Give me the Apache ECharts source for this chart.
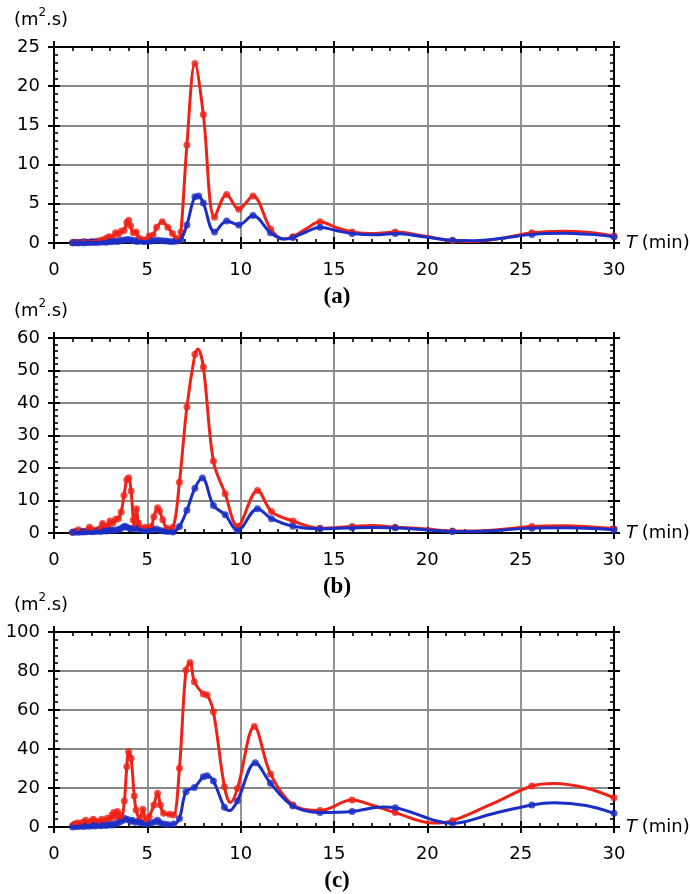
<!DOCTYPE html>
<html><head><meta charset="utf-8">
<script src="https://cdn.jsdelivr.net/npm/echarts@6/dist/echarts.min.js"></script>
<style>html,body{margin:0;padding:0;background:#fff}#c{width:691px;height:894px}</style>
</head><body><div id="c"></div>
<script>
// ---------- data ----------
const xMin = 0, xMax = 30, xStep = 5;
const panelLabels = ['(a)', '(b)', '(c)'];
const yUnit = ['(m', '2', '.s)'];
const xName = ['T', ' (min)'];
const yMaxes = [25, 60, 100];
const ySteps = [5, 10, 20];

// Panel (a)
const redAMarks = [[1.0,0.1],[1.2,0.1],[1.4,0.1],[1.6,0.2],[1.8,0.1],[2.0,0.2],[2.2,0.2],[2.4,0.3],[2.6,0.4],[2.8,0.6],[2.95,0.8],[3.1,0.7],[3.3,1.3],[3.45,1.1],[3.6,1.5],[3.75,1.6],[3.9,2.6],[4.0,2.9],[4.1,2.2],[4.25,1.3],[4.4,1.4],[4.55,0.6],[4.75,0.4],[4.95,0.4],[5.1,0.9],[5.3,1.0],[5.5,2.0],[5.8,2.7],[6.1,2.0],[6.35,1.2],[6.55,0.6],[6.65,0.3],[6.8,1.4],[7.12,12.5],[7.55,22.9],[8.0,16.4],[8.6,3.3],[9.25,6.2],[9.9,4.3],[10.66,6.0],[11.6,1.8],[12.8,0.8],[14.25,2.7],[15.97,1.4],[18.28,1.4],[21.35,0.3],[25.6,1.3],[30,0.9]];
const redAExtra = [[12.3,0.5],[13.5,1.8],[15.1,2.0],[17.2,1.2],[19.8,0.9],[22.5,0.2],[24.0,0.6],[27.2,1.5],[28.7,1.35]];
const blueAMarks = [[1.0,0.0],[1.15,0.05],[1.3,0.0],[1.45,0.05],[1.6,0.0],[1.75,0.1],[1.9,0.05],[2.05,0.1],[2.2,0.05],[2.35,0.1],[2.5,0.1],[2.65,0.15],[2.8,0.1],[2.95,0.2],[3.1,0.15],[3.25,0.25],[3.4,0.2],[3.55,0.3],[3.7,0.35],[3.85,0.4],[4.0,0.45],[4.15,0.35],[4.3,0.3],[4.45,0.2],[4.6,0.25],[4.8,0.2],[5.0,0.2],[5.2,0.25],[5.4,0.3],[5.6,0.35],[5.8,0.3],[6.0,0.25],[6.2,0.2],[6.4,0.2],[6.6,0.25],[6.8,0.4],[7.12,2.3],[7.55,5.9],[7.75,6.0],[8.0,5.1],[8.6,1.4],[9.25,2.8],[9.9,2.3],[10.66,3.5],[11.6,1.3],[12.8,0.7],[14.25,2.0],[15.97,1.2],[18.28,1.2],[21.35,0.35],[25.6,1.1],[30,0.8]];
const blueAExtra = [[12.3,0.5],[13.5,1.4],[15.1,1.6],[17.2,1.05],[19.8,0.8],[22.5,0.3],[24.0,0.6],[27.2,1.25],[28.7,1.1]];

// Panel (b)
const redBMarks = [[1.0,0.2],[1.15,0.5],[1.3,1.0],[1.45,0.4],[1.6,0.5],[1.75,0.7],[1.9,1.8],[2.05,1.0],[2.2,0.7],[2.35,1.0],[2.5,1.5],[2.6,2.9],[2.75,2.0],[2.9,2.2],[3.0,3.7],[3.15,3.0],[3.3,4.2],[3.45,4.4],[3.6,6.5],[3.75,11.6],[3.9,16.4],[4.0,17.0],[4.13,12.9],[4.25,4.0],[4.32,1.8],[4.42,7.5],[4.53,3.0],[4.7,1.5],[4.9,1.8],[5.2,2.0],[5.35,5.0],[5.55,7.8],[5.65,6.8],[5.83,4.1],[6.06,1.5],[6.37,1.8],[6.72,15.6],[7.12,38.8],[7.55,55.0],[8.0,51.1],[8.54,22.1],[9.17,12.1],[9.83,2.1],[10.9,13.1],[11.65,6.6],[12.8,3.7],[14.25,1.5],[15.97,2.0],[18.28,1.8],[21.35,0.6],[25.6,2.0],[30,1.3]];
const redBExtra = [[7.7,56.6],[17.0,2.3],[20.0,1.2],[22.5,0.6],[27.3,2.2]];
const blueBMarks = [[1.0,0.2],[1.15,0.3],[1.3,0.2],[1.45,0.4],[1.6,0.3],[1.75,0.4],[1.9,0.5],[2.05,0.4],[2.2,0.5],[2.35,0.6],[2.5,0.5],[2.65,0.7],[2.8,0.6],[2.95,0.8],[3.1,0.9],[3.25,0.8],[3.4,1.0],[3.55,1.3],[3.7,1.8],[3.8,2.1],[3.95,1.7],[4.1,1.4],[4.25,1.2],[4.4,1.6],[4.55,1.3],[4.7,0.9],[4.9,0.8],[5.1,1.0],[5.3,1.0],[5.5,1.2],[5.7,0.8],[5.9,0.6],[6.1,0.5],[6.37,0.3],[6.72,2.0],[7.12,7.0],[7.55,13.8],[7.95,16.9],[8.54,8.5],[9.17,5.6],[9.83,0.8],[10.9,7.5],[11.65,4.4],[12.8,2.1],[14.25,1.3],[15.97,1.6],[18.28,1.6],[21.35,0.5],[25.6,1.5],[30,1.0]];
const blueBExtra = [[17.0,1.7],[20.0,0.9],[22.5,0.5],[27.3,1.6]];

// Panel (c)
const redCMarks = [[1.0,0.8],[1.1,1.5],[1.25,2.0],[1.4,1.5],[1.55,2.5],[1.7,3.5],[1.85,2.0],[2.0,3.0],[2.1,4.0],[2.25,3.0],[2.4,2.5],[2.55,4.0],[2.7,3.0],[2.85,4.5],[3.0,4.0],[3.1,6.0],[3.2,7.5],[3.3,5.0],[3.4,8.0],[3.5,6.0],[3.6,4.0],[3.77,13.3],[3.9,30.9],[4.0,38.6],[4.13,35.2],[4.3,15.9],[4.4,8.7],[4.6,4.4],[4.76,9.1],[4.93,2.7],[5.1,5.3],[5.35,11.3],[5.55,17.3],[5.7,11.3],[5.87,7.0],[6.2,6.5],[6.41,6.2],[6.72,30.1],[7.07,80.5],[7.29,84.3],[7.52,74.5],[8.0,68.2],[8.2,67.7],[8.54,59.1],[9.13,20.7],[9.83,19.8],[10.73,51.5],[11.6,27.2],[12.8,11.3],[14.25,8.4],[15.97,13.8],[18.28,7.4],[21.35,3.2],[25.6,21.0],[30,15.0]];
const redCExtra = [[9.45,12.6],[17.0,11.3],[20.3,2.0],[23.5,12.0],[26.8,22.3],[28.5,20.0]];
const blueCMarks = [[1.0,0.0],[1.15,0.3],[1.3,0.2],[1.45,0.5],[1.6,0.3],[1.75,0.6],[1.9,0.4],[2.05,0.8],[2.2,0.5],[2.35,0.9],[2.5,0.6],[2.65,1.0],[2.8,0.8],[2.95,1.2],[3.1,1.0],[3.25,1.5],[3.4,1.8],[3.55,2.8],[3.7,3.5],[3.8,4.4],[3.95,3.8],[4.1,3.0],[4.2,3.5],[4.35,2.5],[4.5,2.8],[4.65,2.0],[4.8,1.8],[5.0,1.5],[5.2,2.0],[5.4,2.6],[5.55,3.5],[5.7,2.0],[5.9,1.5],[6.1,1.3],[6.41,1.5],[6.72,4.4],[7.07,18.1],[7.52,20.3],[8.0,25.8],[8.2,26.3],[8.54,23.6],[9.13,10.1],[9.83,13.5],[10.78,33.0],[11.6,22.4],[12.8,10.8],[14.25,7.5],[15.97,8.0],[18.28,9.9],[21.35,1.9],[25.6,11.3],[30,7.0]];
const blueCExtra = [[9.4,8.4],[17.6,10.3],[23.5,6.8],[26.8,12.4],[28.5,11.0]];

// ---------- chart ----------
const RED = '#ee2216', BLUE = '#1b2ec6';
const FONT = 'DejaVu Sans';
const layout = [
  {top: 47, height: 196},
  {top: 338, height: 195},
  {top: 632, height: 195}
];
const L = 54, W = 560;
const panelData = [
  [redAMarks, redAExtra, blueAMarks, blueAExtra],
  [redBMarks, redBExtra, blueBMarks, blueBExtra],
  [redCMarks, redCExtra, blueCMarks, blueCExtra]
];
const mergeSorted = (a, b) => a.concat(b).sort((p, q) => p[0] - q[0]);

const grids = [], xAxes = [], yAxes = [], series = [], graphics = [];
const blackLine = {color: '#000', width: 2};

function axisSet(kind, gi, min, max, interval) {
  const posA = kind === 'x' ? 'bottom' : 'left';
  const posB = kind === 'x' ? 'top' : 'right';
  const base = {type: 'value', gridIndex: gi, min, max, interval, silent: true,
    axisLine: {show: true, onZero: false, lineStyle: blackLine},
    axisLabel: {show: false}, splitLine: {show: false},
    minorTick: {show: false}};
  const main = Object.assign({}, base, {position: posA,
    axisTick: {show: true, inside: false, length: 6, lineStyle: blackLine},
    axisLabel: {show: true, color: '#000', fontFamily: FONT, fontSize: 18,
      margin: kind === 'x' ? 18 : 14, showMinLabel: true, showMaxLabel: true},
    splitLine: {show: true, lineStyle: {color: '#888', width: 1.8}}});
  const mainIn = Object.assign({}, base, {position: posA,
    axisLine: {show: false, onZero: false},
    axisTick: {show: true, inside: true, length: 6, lineStyle: blackLine},
    minorTick: {show: true, splitNumber: 5, length: 4, lineStyle: {color: '#000', width: 1.6}}});
  const opp = Object.assign({}, base, {position: posB,
    axisTick: {show: true, inside: false, length: 6, lineStyle: blackLine}});
  const oppIn = Object.assign({}, base, {position: posB,
    axisLine: {show: false, onZero: false},
    axisTick: {show: true, inside: true, length: 6, lineStyle: blackLine},
    minorTick: {show: true, splitNumber: 5, length: 4, lineStyle: {color: '#000', width: 1.6}}});
  return [main, mainIn, opp, oppIn];
}

const txt = (x, y, text, font, extra) => ({type: 'text', x, y, silent: true,
  style: Object.assign({text, font, fill: '#000', verticalAlign: 'middle', textVerticalAlign: 'middle'}, extra || {})});

layout.forEach((lay, i) => {
  grids.push({left: L, width: W, top: lay.top, height: lay.height, outerBoundsMode: 'none', containLabel: false});
  xAxes.push(...axisSet('x', i, xMin, xMax, xStep));
  yAxes.push(...axisSet('y', i, 0, yMaxes[i], ySteps[i]));
  const [rm, re, bm, be] = panelData[i];
  const ax = i * 4;
  const lineS = (name, data, color) => ({name, type: 'line', xAxisIndex: ax, yAxisIndex: ax,
    data, showSymbol: false, smooth: 0.35, clip: true,
    lineStyle: {color, width: 3}, itemStyle: {color}, silent: true, animation: false});
  const dotS = (name, data, color) => ({name, type: 'scatter', xAxisIndex: ax, yAxisIndex: ax,
    data, symbol: 'circle', symbolSize: 7, itemStyle: {color}, silent: true, animation: false});
  series.push(lineS('red', mergeSorted(rm, re), RED));
  series.push(dotS('redpts', rm, RED));
  series.push(lineS('blue', mergeSorted(be, bm), BLUE));
  series.push(dotS('bluepts', bm, BLUE));

  const zeroY = lay.top + lay.height;
  const uy = lay.top - 27;
  graphics.push(txt(14, uy, yUnit[0], '18px "' + FONT + '"'));
  graphics.push(txt(38.5, uy - 7, yUnit[1], '12px "' + FONT + '"'));
  graphics.push(txt(46, uy, yUnit[2], '18px "' + FONT + '"'));
  graphics.push(txt(626, zeroY, xName[0], 'italic 18px "' + FONT + '"'));
  graphics.push(txt(636, zeroY, xName[1], '18px "' + FONT + '"'));
  graphics.push(txt(337, zeroY + 54, panelLabels[i], 'bold 23px "Liberation Serif"', {align: 'center', textAlign: 'center'}));
});

const chart = echarts.init(document.getElementById('c'), null, {renderer: 'canvas'});
chart.setOption({
  animation: false,
  backgroundColor: '#fff',
  grid: grids, xAxis: xAxes, yAxis: yAxes, series, graphic: graphics
});
</script></body></html>
